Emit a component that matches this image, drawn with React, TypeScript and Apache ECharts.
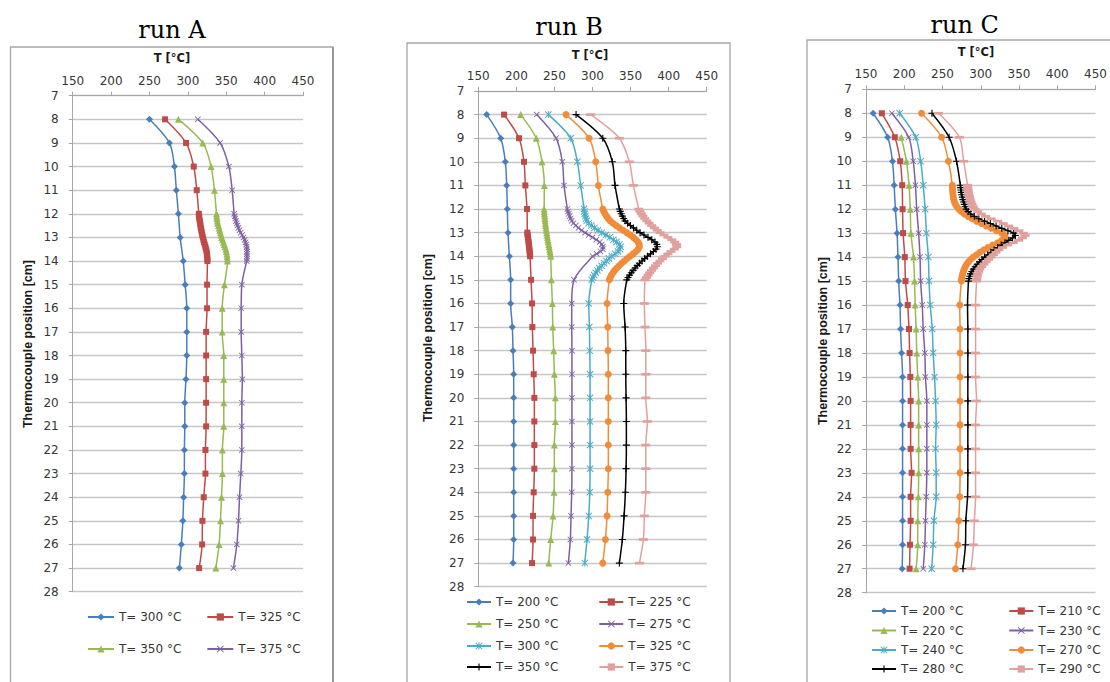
import { useEffect, useRef } from "react";
import * as echarts from "echarts";

// ---------- data ----------
const POSITIONS = [8, 9, 10, 11, 12, 13, 14, 15, 16, 17, 18, 19, 20, 21, 22, 23, 24, 25, 26, 27];
const POS_12_14 = [12, 12.1, 12.2, 12.3, 12.4, 12.5, 12.6, 12.7, 12.8, 12.9, 13, 13.1, 13.2, 13.3, 13.4, 13.5, 13.6, 13.7, 13.8, 13.9, 14];
const POS_12_15 = [12, 12.1, 12.2, 12.3, 12.4, 12.5, 12.6, 12.7, 12.8, 12.9, 13, 13.1, 13.2, 13.3, 13.4, 13.5, 13.6, 13.7, 13.8, 13.9, 14, 14.1, 14.2, 14.3, 14.4, 14.5, 14.6, 14.7, 14.8, 14.9, 15];
const POS_13_14 = [13, 13.1, 13.2, 13.3, 13.4, 13.5, 13.6, 13.7, 13.8, 13.9, 14];
const POS_12_139 = [12, 12.1, 12.2, 12.3, 12.4, 12.5, 12.6, 12.7, 12.8, 12.9, 13, 13.1, 13.2, 13.3, 13.4, 13.5, 13.6, 13.7, 13.8, 13.9];
const POS_11_15 = [11, 11.1, 11.2, 11.3, 11.4, 11.5, 11.6, 11.7, 11.8, 11.9, 12, 12.1, 12.2, 12.3, 12.4, 12.5, 12.6, 12.7, 12.8, 12.9, 13, 13.1, 13.2, 13.3, 13.4, 13.5, 13.6, 13.7, 13.8, 13.9, 14, 14.1, 14.2, 14.3, 14.4, 14.5, 14.6, 14.7, 14.8, 14.9, 15];

const X_TICKS = [150, 200, 250, 300, 350, 400, 450];

// run A
const A_LABELS = ["T= 300 °C", "T= 325 °C", "T= 350 °C", "T= 375 °C"];
const A_300 = [250, 276, 282.5, 285, 287.7, 290, 294, 296.5, 298.6, 298.6, 298.6, 297.5, 296, 296, 295.5, 295.5, 294.5, 293.5, 291.5, 289];
const A_325 = [270.3, 297.7, 307.7, 311.6, 314.3, 319.5, 325.5, 325, 325, 323.8, 323.8, 323.8, 323.8, 323.8, 322.9, 322.9, 320.7, 319, 318.6, 314.7];
const A_350 = [287.7, 319.5, 330.3, 334.6, 337.3, 344.2, 351.6, 347.7, 344.7, 344.7, 346.8, 346.8, 346.8, 346.8, 345, 345, 343.8, 342.5, 340.7, 336.4];
const A_375 = [313, 342, 353.4, 357.7, 360.3, 372.5, 376.6, 370.3, 369.5, 369.5, 370.3, 371, 370.3, 370.3, 370.3, 369, 367.3, 366, 363.8, 359.4];
const A_325_DENSE = [314.3, 314.6, 315.0, 315.5, 316.0, 316.5, 317.0, 317.6, 318.2, 318.8, 319.5, 320.3, 321.1, 322.0, 322.9, 323.8, 324.4, 324.9, 325.2, 325.4, 325.5];
const A_350_DENSE = [337.3, 337.6, 338.0, 338.5, 339.1, 339.9, 340.8, 341.7, 342.5, 343.3, 344.2, 345.3, 346.4, 347.5, 348.5, 349.5, 350.3, 350.8, 351.2, 351.5, 351.6];
const A_375_DENSE = [360.3, 361.0, 361.8, 362.7, 363.6, 364.6, 365.8, 367.2, 368.8, 370.6, 372.5, 374.0, 375.2, 376.0, 376.6, 376.8, 377.0, 377.0, 377.0, 376.9, 376.6];

// run B
const B_LABELS = ["T= 200 °C", "T= 225 °C", "T= 250 °C", "T= 275 °C", "T= 300 °C", "T= 325 °C", "T= 350 °C", "T= 375 °C"];
const B_200 = [161, 179.4, 185.5, 187.3, 188.1, 189, 190.8, 192.5, 192.5, 194.7, 195.6, 196.5, 196.5, 196.5, 196.5, 196.5, 196.5, 196.5, 196.5, 195.6];
const B_225 = [183.8, 203.5, 210, 211.8, 214, 214.4, 218, 219.3, 220.6, 221, 221.9, 222.8, 223.6, 223.6, 223.6, 223.6, 222.8, 221.9, 221.9, 220.6];
const B_250 = [205.7, 226.2, 233.7, 236.7, 236.5, 239.9, 245.1, 246, 247.3, 247.8, 249, 249.9, 251.2, 251.2, 249.9, 249.9, 249.5, 248.2, 245.1, 242.5];
const B_275 = [226.7, 252.1, 260.4, 262.6, 267, 290.2, 300.3, 275.8, 272.7, 272.7, 273, 273, 273, 273, 273, 273, 272.7, 271.8, 270.9, 268.3];
const B_300 = [242, 271.4, 280.1, 284.5, 288.9, 312.2, 325.3, 299, 295.1, 295.9, 296.4, 296.8, 296.8, 296.8, 296.8, 296.8, 296.4, 295.1, 292.8, 289.8];
const B_325 = [265.2, 295.5, 304.3, 307.7, 313.5, 345, 349.3, 322.1, 319.1, 320, 320.4, 320.8, 320.8, 320.8, 320.8, 320.8, 320, 319.1, 316.9, 313.5];
const B_350 = [278.4, 313.5, 326.1, 329.6, 335.3, 362.5, 372.1, 345, 341, 342.8, 343.7, 343.7, 344.1, 344.5, 344.5, 344.1, 343.2, 341.5, 339.2, 335.3];
const B_375 = [297.6, 335.3, 348.4, 353.7, 360.8, 388.8, 395.3, 369, 368.1, 369, 370, 370, 370, 372.1, 370, 370, 370, 368.1, 366.8, 361.6];
const B_225_DENSE = [214.4, 214.8, 215.2, 215.6, 216.0, 216.4, 216.8, 217.1, 217.4, 217.7, 218.0];
const B_250_DENSE = [236.5, 236.7, 236.9, 237.2, 237.5, 237.8, 238.2, 238.6, 239.0, 239.4, 239.9, 240.4, 240.9, 241.4, 241.9, 242.5, 243.1, 243.7, 244.2, 244.7, 245.1];
const B_275_DENSE = [267, 267.8, 268.8, 270, 271.3, 272.7, 275, 278, 281.5, 285.7, 290.2, 295, 300, 305, 309.5, 312.2, 313.5, 313.5, 310.5, 305.5];
const B_300_DENSE = [288.9, 289.3, 289.9, 290.6, 291.4, 292.4, 295, 298.5, 302.5, 307.2, 312.2, 317.5, 322.7, 327.4, 331.7, 335.3, 336.8, 336.2, 333.5, 329.7, 325.3, 321.8, 318.5, 315.2, 312, 309, 306.5, 304.2, 302.2, 300.5, 299];
const B_325_DENSE = [313.5, 314.8, 316.4, 318.3, 320.5, 323.1, 326.8, 331, 335.5, 340.2, 345, 349.5, 353.6, 357.2, 359.8, 361.3, 361.6, 360, 357, 353.3, 349.3, 345.5, 341.8, 338.3, 335, 331.9, 329.2, 326.9, 324.9, 323.3, 322.1];
const B_350_DENSE = [335.3, 336.4, 337.7, 339.2, 340.9, 342.8, 346, 349.8, 353.8, 358.1, 362.5, 367.6, 372.9, 377.9, 382, 384.5, 385.2, 383.3, 380, 376.2, 372.1, 368.5, 365, 361.8, 358.7, 355.9, 353.3, 350.9, 348.7, 346.7, 345];
const B_375_DENSE = [360.8, 362.3, 364.1, 366.2, 368.6, 371.3, 374.4, 377.8, 381.3, 385, 388.8, 393.8, 399, 404.1, 408, 410.3, 410.7, 407.5, 403, 399, 395.3, 391.8, 388.5, 385.5, 382.7, 380, 377.5, 375.2, 373, 370.9, 369];

// run C
const C_LABELS = ["T= 200 °C", "T= 210 °C", "T= 220 °C", "T= 230 °C", "T= 240 °C", "T= 270 °C", "T= 280 °C", "T= 290 °C"];
const C_200 = [159.3, 178.3, 184.6, 186.8, 188.4, 190.6, 191.8, 192.7, 194.4, 195.2, 196.5, 197.8, 197.8, 197.8, 197.8, 197.8, 197.8, 197.8, 197.8, 197.3];
const C_210 = [170.7, 187.6, 194.7, 197.3, 197.8, 198.5, 200.7, 201.6, 204.5, 206.2, 207, 207.9, 208.3, 208.3, 208.3, 209.6, 208.3, 208.3, 207.5, 207];
const C_220 = [null, 196, 202.8, 206.2, 207.9, 208.7, 212.1, 213.4, 214.3, 215.5, 216.3, 217.6, 218.8, 218.8, 218.8, 218.8, 218.4, 217.6, 217.6, 215.5];
const C_230 = [183.8, 205.8, 211.7, 214.6, 216.3, 218.8, 220.6, 221.4, 223.5, 224.8, 226.9, 227.7, 229.5, 229.5, 229.5, 229.5, 228.7, 227.7, 226.9, 224.8];
const C_240 = [194, 215, 221.4, 224.8, 227.3, 229, 231.5, 232.4, 234, 236.6, 237.8, 239.6, 240.9, 241.7, 240.9, 241.7, 241.7, 238.7, 237.8, 235.8];
const C_270 = [222.6, 248.9, 257.7, 262.8, 271.3, 327.4, 290.3, 274.6, 272.5, 272.9, 272.9, 272.9, 272.9, 272.9, 272.9, 272.9, 272.5, 271.3, 270, 267];
const C_280 = [236.2, 258.6, 268.3, 273.3, 280.9, 343, 305, 283.9, 282.7, 283.1, 283.1, 283.1, 283.1, 283.1, 283.1, 283.1, 282.7, 280.5, 280, 276.7];
const C_290 = [244.7, 272, 277.6, 282.7, 292.4, 355.8, 313.5, 294.5, 293.2, 293.2, 293.2, 293.2, 294.5, 293.2, 293.2, 293.2, 293.2, 291.6, 290.5, 287.3];
const C_270_DENSE = [262.8, 262.9, 263.1, 263.4, 263.7, 264.1, 264.7, 265.6, 266.9, 268.8, 271.3, 274.5, 278.5, 283.3, 288.7, 294.5, 300.8, 307.2, 313.5, 320.5, 327.4, 331.5, 331.7, 327.5, 322, 315.5, 309.3, 303.8, 299, 294.5, 290.3, 286.8, 284, 281.6, 279.8, 278.4, 277.2, 276.3, 275.6, 275, 274.6];
const C_280_DENSE = [273.3, 273.6, 274, 274.5, 275.1, 275.8, 276.6, 277.5, 278.5, 279.6, 280.9, 283.5, 287, 291.5, 297.5, 305, 312.5, 320, 327.5, 335.5, 343, 345.2, 341.5, 336.7, 331.6, 326.7, 322, 317.5, 313.2, 309, 305, 301.5, 298.3, 295.3, 292.7, 290.3, 288.3, 286.7, 285.4, 284.5, 283.9];
const C_290_DENSE = [282.7, 283, 283.4, 283.9, 284.5, 285.3, 286.2, 287.3, 288.6, 290.2, 292.4, 296, 300.6, 306.3, 313.5, 322, 329.5, 336.5, 343.3, 349.8, 355.8, 357.9, 354.3, 349.4, 342.3, 335.1, 328.3, 323.6, 319.8, 316.5, 313.5, 310.2, 307, 304, 301.2, 298.7, 297.2, 296.1, 295.3, 294.8, 294.5];

// ---------- styles ----------
const X_PATH = "path://M1,0L5,4L9,0L10,1L6,5L10,9L9,10L5,6L1,10L0,9L4,5L0,1Z";
const STAR_PATH = "path://M1,0L5,4L9,0L10,1L6,5L10,9L9,10L5,6L1,10L0,9L4,5L0,1Z M4.3,0L5.7,0L5.7,10L4.3,10Z";
const PLUS_PATH = "path://M4.2,0H5.8V4.2H10V5.8H5.8V10H4.2V5.8H0V4.2H4.2Z";
const DASH_PATH = "path://M0,3.5H10V6.5H0Z";

const STYLES = [
  { color: "#4A7EBB", symbol: "diamond", size: 7 },
  { color: "#BE4B48", symbol: "rect", size: 6 },
  { color: "#98B954", symbol: "triangle", size: 7 },
  { color: "#7D60A0", symbol: X_PATH, size: 6 },
  { color: "#4BACC6", symbol: STAR_PATH, size: 7 },
  { color: "#F08C3A", symbol: "circle", size: 7 },
  { color: "#000000", symbol: PLUS_PATH, size: 7 },
  { color: "#E0A09E", symbol: DASH_PATH, size: 9 },
];

function merge(coarse: (number | null)[], densePos?: number[], dense?: number[]): number[][] {
  const pts: number[][] = [];
  const lo = densePos ? densePos[0] : Infinity;
  const hi = densePos ? densePos[densePos.length - 1] : -Infinity;
  coarse.forEach((t, i) => {
    const p = POSITIONS[i];
    if (t == null) return;
    if (p >= lo && p <= hi) return;
    pts.push([t, p]);
  });
  if (densePos && dense) densePos.forEach((p, i) => pts.push([dense[i], p]));
  pts.sort((a, b) => a[1] - b[1]);
  return pts;
}

const PANELS = [
  {
    id: "A",
    title: "run A",
    labels: A_LABELS,
    data: [
      merge(A_300),
      merge(A_325, POS_12_14, A_325_DENSE),
      merge(A_350, POS_12_14, A_350_DENSE),
      merge(A_375, POS_12_14, A_375_DENSE),
    ],
    grid: { left: 72.7, top: 95.7, width: 230.3, height: 496 },
    titleXY: [172, 30],
    tNameXY: [172, 58],
    yNameXY: [28, 344],
    box: [10.5, 47, 322.5, 700],
    legend: { x: 87, rows: [618, 650], itemWidth: 26, gap: 25 },
  },
  {
    id: "B",
    title: "run B",
    labels: B_LABELS,
    data: [
      merge(B_200),
      merge(B_225, POS_13_14, B_225_DENSE),
      merge(B_250, POS_12_14, B_250_DENSE),
      merge(B_275, POS_12_139, B_275_DENSE),
      merge(B_300, POS_12_15, B_300_DENSE),
      merge(B_325, POS_12_15, B_325_DENSE),
      merge(B_350, POS_12_15, B_350_DENSE),
      merge(B_375, POS_12_15, B_375_DENSE),
    ],
    grid: { left: 478.3, top: 91, width: 228.4, height: 495.7 },
    titleXY: [569, 27],
    tNameXY: [590, 54.5],
    yNameXY: [427.5, 338],
    box: [407, 43, 323, 700],
    legend: { x: 466, rows: [603, 625, 647, 668], itemWidth: 24, gap: 40 },
  },
  {
    id: "C",
    title: "run C",
    labels: C_LABELS,
    data: [
      merge(C_200),
      merge(C_210),
      merge(C_220),
      merge(C_230),
      merge(C_240),
      merge(C_270, POS_11_15, C_270_DENSE),
      merge(C_280, POS_11_15, C_280_DENSE),
      merge(C_290, POS_11_15, C_290_DENSE),
    ],
    grid: { left: 866, top: 89.3, width: 236.6, height: 503.4 },
    titleXY: [964.7, 24.5],
    tNameXY: [976, 51.7],
    yNameXY: [823.3, 341],
    box: [807, 40, 320, 700],
    legend: { x: 871, rows: [612, 631.5, 651, 670], itemWidth: 24, gap: 45 },
  },
];

const AXIS_GRAY = "#a6a6a6";
const LABEL_COLOR = "#363636";

function buildOption() {
  const grids: any[] = [];
  const xAxes: any[] = [];
  const yAxes: any[] = [];
  const series: any[] = [];
  const legends: any[] = [];
  const graphics: any[] = [];

  PANELS.forEach((panel, pi) => {
    grids.push({ ...panel.grid, containLabel: false });
    xAxes.push({
      gridIndex: pi,
      type: "value",
      position: "top",
      min: X_TICKS[0],
      max: X_TICKS[X_TICKS.length - 1],
      interval: 50,
      axisLine: { show: true, lineStyle: { color: AXIS_GRAY, width: 1 } },
      axisTick: { show: true, length: 4, lineStyle: { color: AXIS_GRAY } },
      axisLabel: { fontFamily: "DejaVu Sans", fontSize: 12, color: LABEL_COLOR, margin: 9 },
      splitLine: { show: false },
    });
    yAxes.push({
      gridIndex: pi,
      type: "value",
      inverse: true,
      min: 7,
      max: 28,
      interval: 1,
      axisLine: { show: true, lineStyle: { color: AXIS_GRAY, width: 1 } },
      axisTick: { show: true, length: 4, lineStyle: { color: AXIS_GRAY } },
      axisLabel: { fontFamily: "DejaVu Sans", fontSize: 12, color: LABEL_COLOR, margin: 14 },
      splitLine: { show: true, lineStyle: { color: "#c6c6c6", width: 1.3 } },
    });

    panel.data.forEach((pts, si) => {
      const st = STYLES[si];
      series.push({
        type: "line",
        name: panel.id + "|" + panel.labels[si],
        xAxisIndex: pi,
        yAxisIndex: pi,
        data: pts,
        smooth: 0.3,
        symbol: st.symbol,
        symbolSize: st.size,
        symbolKeepAspect: true,
        lineStyle: { color: st.color, width: 1.5 },
        itemStyle: { color: st.color },
        emphasis: { disabled: true },
        silent: true,
        z: 3,
      });
    });

    const lg = panel.legend;
    lg.rows.forEach((rowY, ri) => {
      const names = panel.labels.slice(ri * 2, ri * 2 + 2).map((l) => panel.id + "|" + l);
      legends.push({
        left: lg.x,
        top: rowY - 7,
        orient: "horizontal",
        padding: 0,
        itemWidth: lg.itemWidth,
        itemHeight: 9,
        itemGap: lg.gap,
        selectedMode: false,
        data: names,
        formatter: (name: string) => name.split("|")[1],
        textStyle: { fontFamily: "DejaVu Sans", fontSize: 12, color: LABEL_COLOR },
      });
    });

    const [bx, by, bw, bh] = panel.box;
    graphics.push({
      type: "rect",
      shape: { x: bx, y: by, width: bw, height: bh },
      style: { fill: "none", stroke: "#a6a6a6", lineWidth: 1.3 },
      z: 0,
    });
    graphics.push({
      type: "text",
      x: panel.titleXY[0],
      y: panel.titleXY[1],
      style: {
        text: panel.title,
        fontFamily: "DejaVu Serif",
        fontSize: 24,
        fill: "#000",
        align: "center",
        verticalAlign: "middle",
      },
    });
    graphics.push({
      type: "text",
      x: panel.tNameXY[0],
      y: panel.tNameXY[1],
      style: {
        text: "T [°C]",
        fontFamily: "DejaVu Sans",
        fontWeight: "bold",
        fontSize: 11.5,
        fill: "#1a1a1a",
        align: "center",
        verticalAlign: "middle",
      },
    });
    graphics.push({
      type: "text",
      x: panel.yNameXY[0],
      y: panel.yNameXY[1],
      rotation: Math.PI / 2,
      style: {
        text: "Thermocouple position [cm]",
        fontFamily: "Liberation Sans",
        fontWeight: "bold",
        fontSize: 12.5,
        fill: "#1a1a1a",
        align: "center",
        verticalAlign: "middle",
      },
    });
  });

  // darker right edge of the run A frame
  graphics.push({
    type: "line",
    shape: { x1: 333, y1: 47, x2: 333, y2: 700 },
    style: { stroke: "#999999", lineWidth: 2 },
  });

  return {
    animation: false,
    backgroundColor: "#ffffff",
    textStyle: { fontFamily: "DejaVu Sans" },
    grid: grids,
    xAxis: xAxes,
    yAxis: yAxes,
    legend: legends,
    series,
    graphic: graphics,
  };
}

export default function App() {
  const ref = useRef<HTMLDivElement>(null);
  useEffect(() => {
    if (!ref.current) return;
    const chart = echarts.init(ref.current, null, { renderer: "svg" });
    chart.setOption(buildOption() as any);
    return () => chart.dispose();
  }, []);
  return (
    <div
      ref={ref}
      style={{ position: "fixed", left: 0, top: 0, width: 1110, height: 682, background: "#fff" }}
    />
  );
}
